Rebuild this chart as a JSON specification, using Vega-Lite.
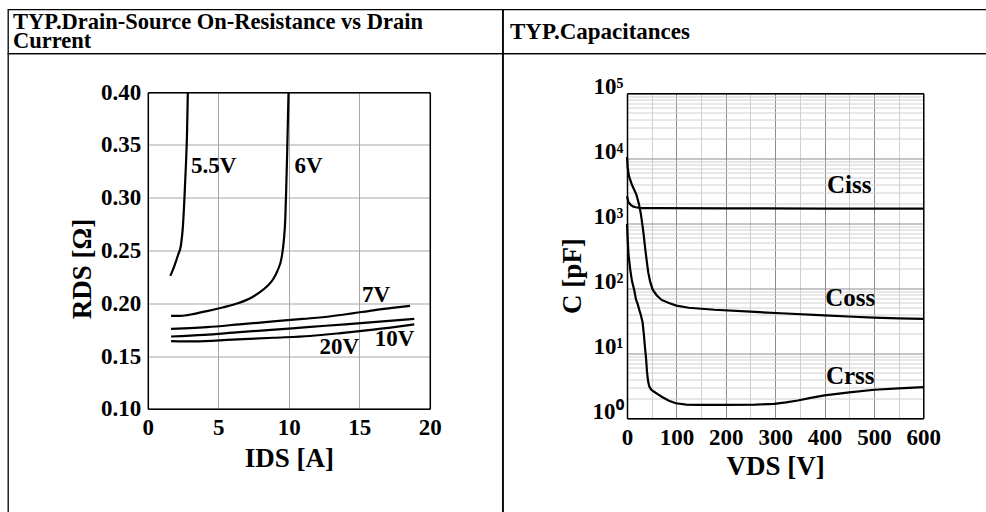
{
  "$schema": "https://vega.github.io/schema/vega-lite/v6.json",
  "background": "white",
  "padding": {"left": 7, "top": 8.5, "right": -6.5, "bottom": -11.5},
  "columns": 2,
  "spacing": 0,
  "bounds": "flush",
  "config": {
    "view": {"stroke": "black", "strokeWidth": 1.3},
    "axis": {
      "labelFont": "Liberation Serif", "labelFontWeight": "bold", "labelColor": "black", "labelFontSize": 23,
      "titleFont": "Liberation Serif", "titleFontWeight": "bold", "titleColor": "black", "titleFontSize": 27,
      "domainColor": "black", "domainWidth": 1.5, "ticks": false, "labelOverlap": false, "labelFlush": false, "labelBound": false
    },
    "text": {"font": "Liberation Serif", "fontWeight": "bold", "color": "black"}
  },
  "concat": [
    {
      "width": 494.5, "height": 44,
      "data": {"values": [{"h": "TYP.Drain-Source On-Resistance vs Drain\nCurrent"}]},
      "mark": {"type": "text", "align": "left", "baseline": "middle", "dx": 5, "dy": -9.5, "fontSize": 22.5, "lineHeight": 19, "lineBreak": "\n"},
      "encoding": {
        "text": {"field": "h"},
        "x": {"datum": 0, "type": "quantitative", "scale": {"domain": [0, 1]}, "axis": null},
        "y": {"datum": 0.5, "type": "quantitative", "scale": {"domain": [0, 1]}, "axis": null}
      }
    },
    {
      "width": 490, "height": 44,
      "data": {"values": [{"h": "TYP.Capacitances"}]},
      "mark": {"type": "text", "align": "left", "baseline": "middle", "dx": 7, "fontSize": 23},
      "encoding": {
        "text": {"field": "h"},
        "x": {"datum": 0, "type": "quantitative", "scale": {"domain": [0, 1]}, "axis": null},
        "y": {"datum": 0.5, "type": "quantitative", "scale": {"domain": [0, 1]}, "axis": null}
      }
    },
    {
      "width": 494.5, "height": 470,
      "resolve": {"axis": {"x": "independent", "y": "independent"}},
      "layer": [
        {
          "data": {"values": [
            {"s": "5.5V", "I": 1.6, "R": 0.226}, {"s": "5.5V", "I": 1.9, "R": 0.236}, {"s": "5.5V", "I": 2.15, "R": 0.246}, {"s": "5.5V", "I": 2.35, "R": 0.255}, {"s": "5.5V", "I": 2.5, "R": 0.275}, {"s": "5.5V", "I": 2.6, "R": 0.3}, {"s": "5.5V", "I": 2.7, "R": 0.33}, {"s": "5.5V", "I": 2.78, "R": 0.36}, {"s": "5.5V", "I": 2.84, "R": 0.4},
            {"s": "6V", "I": 1.65, "R": 0.188}, {"s": "6V", "I": 2.3, "R": 0.188}, {"s": "6V", "I": 3.3, "R": 0.19}, {"s": "6V", "I": 4.2, "R": 0.1925}, {"s": "6V", "I": 5.3, "R": 0.196}, {"s": "6V", "I": 6.5, "R": 0.2005}, {"s": "6V", "I": 7.3, "R": 0.205}, {"s": "6V", "I": 7.9, "R": 0.21}, {"s": "6V", "I": 8.5, "R": 0.2165}, {"s": "6V", "I": 8.9, "R": 0.223}, {"s": "6V", "I": 9.2, "R": 0.231}, {"s": "6V", "I": 9.5, "R": 0.244}, {"s": "6V", "I": 9.65, "R": 0.26}, {"s": "6V", "I": 9.75, "R": 0.28}, {"s": "6V", "I": 9.82, "R": 0.31}, {"s": "6V", "I": 9.88, "R": 0.34}, {"s": "6V", "I": 9.93, "R": 0.37}, {"s": "6V", "I": 9.98, "R": 0.4},
            {"s": "7V", "I": 1.65, "R": 0.1758}, {"s": "7V", "I": 3, "R": 0.1765}, {"s": "7V", "I": 4.2, "R": 0.1774}, {"s": "7V", "I": 6.5, "R": 0.18}, {"s": "7V", "I": 8.9, "R": 0.1828}, {"s": "7V", "I": 11, "R": 0.1852}, {"s": "7V", "I": 13, "R": 0.1877}, {"s": "7V", "I": 14.5, "R": 0.1904}, {"s": "7V", "I": 16, "R": 0.1933}, {"s": "7V", "I": 17.5, "R": 0.1958}, {"s": "7V", "I": 18.6, "R": 0.1976},
            {"s": "10V", "I": 1.65, "R": 0.1685}, {"s": "10V", "I": 4, "R": 0.17}, {"s": "10V", "I": 6.5, "R": 0.1727}, {"s": "10V", "I": 9, "R": 0.175}, {"s": "10V", "I": 11.3, "R": 0.1774}, {"s": "10V", "I": 14, "R": 0.18}, {"s": "10V", "I": 16, "R": 0.1821}, {"s": "10V", "I": 18.9, "R": 0.1853},
            {"s": "20V", "I": 1.65, "R": 0.1641}, {"s": "20V", "I": 3.3, "R": 0.1638}, {"s": "20V", "I": 6, "R": 0.1655}, {"s": "20V", "I": 8.9, "R": 0.1673}, {"s": "20V", "I": 11.5, "R": 0.169}, {"s": "20V", "I": 13.7, "R": 0.1717}, {"s": "20V", "I": 16, "R": 0.175}, {"s": "20V", "I": 18.9, "R": 0.18}
          ]},
          "mark": {"type": "line", "color": "black", "strokeWidth": 2.2, "interpolate": "monotone"},
          "encoding": {
            "x": {"field": "I", "type": "quantitative",
                  "scale": {"domain": [0, 20], "range": [139.8, 421.8], "nice": false, "zero": false},
                  "axis": {"orient": "bottom", "offset": -114.7, "values": [0, 5, 10, 15, 20], "grid": false, "labelPadding": 8, "title": "IDS [A]", "titlePadding": 6}},
            "y": {"field": "R", "type": "quantitative",
                  "scale": {"domain": [0.1, 0.4], "range": [355.3, 38.7], "nice": false, "zero": false},
                  "axis": {"orient": "left", "offset": -139.8, "values": [0.1, 0.15, 0.2, 0.25, 0.3, 0.35, 0.4], "format": ".2f", "grid": true, "gridColor": "#a6a6a6", "gridWidth": 1, "labelPadding": 7, "title": "RDS [Ω]", "titlePadding": 4, "titleY": 215}},
            "detail": {"field": "s"}
          }
        },
        {
          "data": {"values": [
            {"t": "5.5V", "I": 3.07, "R": 0.3305}, {"t": "6V", "I": 10.4, "R": 0.3296}, {"t": "7V", "I": 15.2, "R": 0.2083}, {"t": "10V", "I": 16.1, "R": 0.1663}, {"t": "20V", "I": 12.17, "R": 0.1584}
          ]},
          "mark": {"type": "text", "align": "left", "baseline": "middle", "fontSize": 23},
          "encoding": {
            "text": {"field": "t"},
            "x": {"field": "I", "type": "quantitative",
                  "axis": {"orient": "top", "offset": -38.7, "values": [0, 5, 10, 15, 20], "labels": false, "title": null, "grid": true, "gridColor": "#a6a6a6", "gridWidth": 1}},
            "y": {"field": "R", "type": "quantitative",
                  "axis": {"orient": "right", "offset": -72.7, "labels": false, "title": null, "grid": false}}
          }
        }
      ]
    },
    {
      "width": 490, "height": 470,
      "resolve": {"axis": {"x": "independent", "y": "independent"}},
      "layer": [
        {
          "data": {"values": [
            {"s": "Ciss", "V": 0, "C": 2600}, {"s": "Ciss", "V": 3, "C": 2100}, {"s": "Ciss", "V": 8, "C": 1900}, {"s": "Ciss", "V": 13, "C": 1800}, {"s": "Ciss", "V": 18, "C": 1760}, {"s": "Ciss", "V": 28, "C": 1710}, {"s": "Ciss", "V": 60, "C": 1700}, {"s": "Ciss", "V": 200, "C": 1690}, {"s": "Ciss", "V": 400, "C": 1680}, {"s": "Ciss", "V": 600, "C": 1670},
            {"s": "Coss", "V": 0, "C": 10500}, {"s": "Coss", "V": 1.5, "C": 7000}, {"s": "Coss", "V": 4, "C": 5300}, {"s": "Coss", "V": 10, "C": 3900}, {"s": "Coss", "V": 19, "C": 2750}, {"s": "Coss", "V": 24, "C": 2000}, {"s": "Coss", "V": 28, "C": 1400}, {"s": "Coss", "V": 33, "C": 750}, {"s": "Coss", "V": 37, "C": 400}, {"s": "Coss", "V": 40, "C": 260}, {"s": "Coss", "V": 43, "C": 175}, {"s": "Coss", "V": 47, "C": 125}, {"s": "Coss", "V": 52, "C": 95}, {"s": "Coss", "V": 60, "C": 78}, {"s": "Coss", "V": 70, "C": 66}, {"s": "Coss", "V": 85, "C": 59}, {"s": "Coss", "V": 100, "C": 54}, {"s": "Coss", "V": 125, "C": 50}, {"s": "Coss", "V": 177, "C": 46.6}, {"s": "Coss", "V": 250, "C": 43.5}, {"s": "Coss", "V": 312, "C": 41.2}, {"s": "Coss", "V": 400, "C": 38.2}, {"s": "Coss", "V": 448, "C": 36.7}, {"s": "Coss", "V": 500, "C": 35.3}, {"s": "Coss", "V": 550, "C": 34.4}, {"s": "Coss", "V": 600, "C": 33.8},
            {"s": "Crss", "V": 0, "C": 970}, {"s": "Crss", "V": 1.5, "C": 550}, {"s": "Crss", "V": 3, "C": 330}, {"s": "Crss", "V": 6.7, "C": 190}, {"s": "Crss", "V": 10, "C": 130}, {"s": "Crss", "V": 14.8, "C": 92}, {"s": "Crss", "V": 18, "C": 68}, {"s": "Crss", "V": 21.6, "C": 57}, {"s": "Crss", "V": 25, "C": 46}, {"s": "Crss", "V": 28.3, "C": 38}, {"s": "Crss", "V": 31.5, "C": 30}, {"s": "Crss", "V": 34, "C": 20}, {"s": "Crss", "V": 36.5, "C": 12}, {"s": "Crss", "V": 38.5, "C": 8.5}, {"s": "Crss", "V": 40.5, "C": 5.2}, {"s": "Crss", "V": 42.5, "C": 3.8}, {"s": "Crss", "V": 45, "C": 3.1}, {"s": "Crss", "V": 49, "C": 2.75}, {"s": "Crss", "V": 55, "C": 2.55}, {"s": "Crss", "V": 62, "C": 2.35}, {"s": "Crss", "V": 72, "C": 2.1}, {"s": "Crss", "V": 85, "C": 1.85}, {"s": "Crss", "V": 99, "C": 1.7}, {"s": "Crss", "V": 120, "C": 1.62}, {"s": "Crss", "V": 143, "C": 1.6}, {"s": "Crss", "V": 200, "C": 1.6}, {"s": "Crss", "V": 260, "C": 1.62}, {"s": "Crss", "V": 298, "C": 1.66}, {"s": "Crss", "V": 322, "C": 1.75}, {"s": "Crss", "V": 346, "C": 1.87}, {"s": "Crss", "V": 372, "C": 2.05}, {"s": "Crss", "V": 400, "C": 2.24}, {"s": "Crss", "V": 450, "C": 2.5}, {"s": "Crss", "V": 501, "C": 2.74}, {"s": "Crss", "V": 550, "C": 2.88}, {"s": "Crss", "V": 600, "C": 3.0}
          ]},
          "mark": {"type": "line", "color": "black", "strokeWidth": 2.2},
          "encoding": {
            "x": {"field": "V", "type": "quantitative",
                  "scale": {"domain": [0, 600], "range": [124, 420.3], "nice": false, "zero": false},
                  "axis": {"orient": "bottom", "offset": -105.3, "values": [0, 100, 200, 300, 400, 500, 600], "grid": false, "labelPadding": 8, "title": "VDS [V]", "titlePadding": 4}},
            "y": {"field": "C", "type": "quantitative",
                  "scale": {"type": "log", "domain": [1, 100000], "range": [364.7, 39.7], "nice": false, "zero": false},
                  "axis": {"orient": "left", "offset": -124,
                           "values": [1, 2, 3, 4, 5, 6, 7, 8, 9, 10, 20, 30, 40, 50, 60, 70, 80, 90, 100, 200, 300, 400, 500, 600, 700, 800, 900, 1000, 2000, 3000, 4000, 5000, 6000, 7000, 8000, 9000, 10000, 20000, 30000, 40000, 50000, 60000, 70000, 80000, 90000, 100000],
                           "labelExpr": "abs(log(datum.value)/LN10 - round(log(datum.value)/LN10)) < 0.001 ? '10' + ['⁰','¹','²','³','⁴','⁵'][round(log(datum.value)/LN10)] : ''",
                           "labelBaseline": "alphabetic", "labelPadding": 4,
                           "grid": true,
                           "gridColor": {"condition": {"test": "abs(log(datum.value)/LN10 - round(log(datum.value)/LN10)) < 0.001", "value": "#8c8c8c"}, "value": "#d0d0d0"},
                           "gridWidth": 1, "title": "C [pF]", "titlePadding": 6, "titleY": 222}},
            "detail": {"field": "s"}
          }
        },
        {
          "data": {"values": [
            {"t": "Ciss", "V": 450, "C": 3900}, {"t": "Coss", "V": 452, "C": 70}, {"t": "Crss", "V": 452, "C": 4.5}
          ]},
          "mark": {"type": "text", "align": "center", "baseline": "middle", "fontSize": 25},
          "encoding": {
            "text": {"field": "t"},
            "x": {"field": "V", "type": "quantitative",
                  "axis": {"orient": "top", "offset": -39.7, "values": [0, 50, 100, 150, 200, 250, 300, 350, 400, 450, 500, 550, 600], "labels": false, "title": null, "grid": true,
                           "gridColor": {"condition": {"test": "datum.value % 100 === 0", "value": "#8c8c8c"}, "value": "#d0d0d0"}, "gridWidth": 1}},
            "y": {"field": "C", "type": "quantitative",
                  "axis": {"orient": "right", "offset": -69.7, "labels": false, "title": null, "grid": false}}
          }
        }
      ]
    }
  ]
}
